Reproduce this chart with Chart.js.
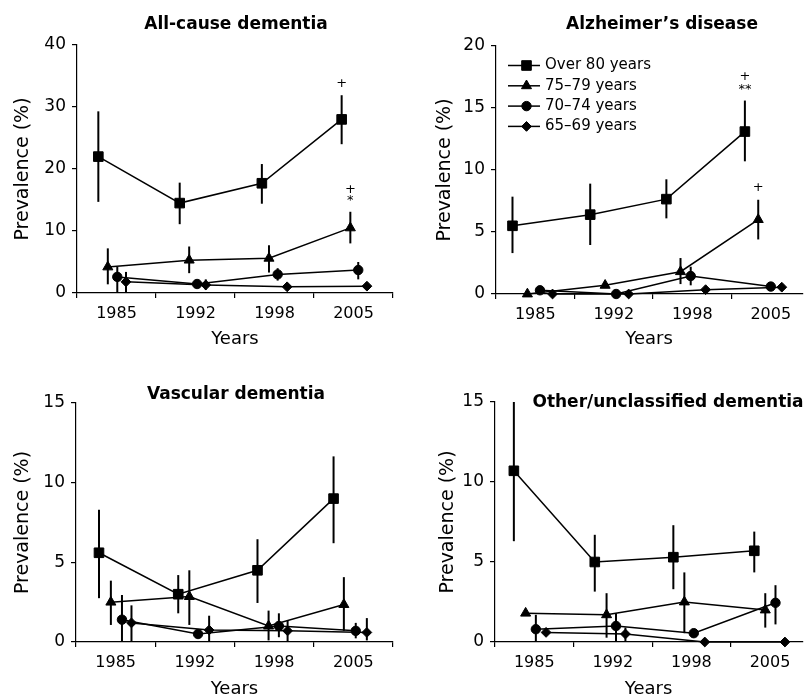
<!DOCTYPE html>
<html>
<head>
<meta charset="utf-8">
<script src="https://cdn.jsdelivr.net/npm/chart.js@4.4.1/dist/chart.umd.min.js"></script>
<style>
  html, body { margin: 0; padding: 0; background: #fff; overflow: hidden; }
  #wrap { position: relative; width: 810px; height: 696px; }
  .panel { position: absolute; }
</style>
</head>
<body>
<div id="wrap">
  <div class="panel" style="left:0;top:0;width:405px;height:350px"><canvas id="c1"></canvas></div>
  <div class="panel" style="left:405px;top:0;width:405px;height:350px"><canvas id="c2"></canvas></div>
  <div class="panel" style="left:0;top:350px;width:405px;height:350px"><canvas id="c3"></canvas></div>
  <div class="panel" style="left:405px;top:350px;width:405px;height:350px"><canvas id="c4"></canvas></div>
</div>
<script>
const years = ['1985', '1992', '1998', '2005'];
const ageGroups = ['Over 80 years', '75–79 years', '70–74 years', '65–69 years'];

// rows: Over 80, 75-79, 70-74, 65-69 ; x is position along the survey-year axis
const allCauseX = [[0.27, 1.30, 2.34, 3.35], [0.39, 1.42, 2.43, 3.46], [0.51, 1.52, 2.54, 3.56], [0.62, 1.63, 2.66, 3.67]];
const allCauseY = [[22, 14.5, 17.7, 28], [4.2, 5.3, 5.6, 10.5], [2.6, 1.45, 3.0, 3.7], [1.8, 1.3, 1.0, 1.1]];
const allCauseLo = [[14.7, 11.1, 14.4, 24], [1.4, 3.2, 3.3, 8.0], [0, 0.9, 2.0, 2.2], [0, 0.5, 0.7, 0.6]];
const allCauseHi = [[29.3, 17.8, 20.8, 31.9], [7.2, 7.5, 7.7, 13.1], [4.2, 2.1, 4.0, 5.0], [3.4, 2.2, 1.3, 1.6]];
const allCauseMarks = [[0, 3, '+', 33.7], [1, 3, '+', 16.6], [1, 3, '*', 14.9]];

const alzX = [[0.21, 1.20, 2.17, 3.17], [0.40, 1.39, 2.35, 3.34], [0.56, 1.53, 2.48, 3.50], [0.72, 1.69, 2.67, 3.64]];
const alzY = [[5.5, 6.4, 7.65, 13.1], [0, 0.7, 1.8, 6.0], [0.3, 0, 1.45, 0.6], [0, 0, 0.35, 0.55]];
const alzLo = [[3.3, 3.95, 6.1, 10.7], [0, 0.7, 0.8, 4.4], [0.3, 0, 0.7, 0.3], [0, 0, 0.35, 0.4]];
const alzHi = [[7.85, 8.9, 9.25, 15.6], [0, 0.7, 2.9, 7.6], [0.3, 0, 2.2, 0.9], [0, 0, 0.35, 0.8]];
const alzMarks = [[0, 3, '+', 17.5], [0, 3, '**', 16.5], [1, 3, '+', 8.6]];

const vascX = [[0.29, 1.29, 2.29, 3.25], [0.44, 1.43, 2.43, 3.38], [0.58, 1.54, 2.56, 3.53], [0.70, 1.68, 2.67, 3.67]];
const vascY = [[5.6, 3.0, 4.5, 9.0], [2.5, 2.85, 1.0, 2.35], [1.4, 0.5, 1.0, 0.7], [1.2, 0.75, 0.7, 0.6]];
const vascLo = [[2.75, 1.8, 2.45, 6.2], [1.07, 1.07, 0.1, 0.7], [0, 0.3, 0.3, 0.23], [0, 0, 0, 0.1]];
const vascHi = [[8.3, 4.2, 6.45, 11.65], [3.85, 4.5, 1.97, 4.07], [2.95, 0.8, 1.8, 1.2], [2.3, 1.65, 1.35, 1.5]];

const otherX = [[0.24, 1.27, 2.27, 3.30], [0.39, 1.42, 2.41, 3.44], [0.52, 1.54, 2.53, 3.57], [0.65, 1.66, 2.67, 3.69]];
const otherY = [[10.7, 5.0, 5.3, 5.7], [1.8, 1.7, 2.5, 2.0], [0.8, 1.0, 0.55, 2.45], [0.6, 0.5, 0, 0]];
const otherLo = [[6.3, 3.15, 3.3, 4.35], [1.8, 0.27, 0.55, 0.9], [0, 0, 0.55, 1.1], [0.6, 0, 0, 0]];
const otherHi = [[15, 6.7, 7.3, 6.9], [1.8, 3.05, 4.35, 3.05], [1.7, 1.8, 0.55, 3.55], [0.6, 0.9, 0, 0]];

const pointStyles = ['rect', 'triangle', 'circle', 'rectRot'];
const pointSizes = [6.8, 5.8, 4.7, 4.9];
const FONT = 'DejaVu Sans';

Chart.defaults.font.family = FONT;
Chart.defaults.color = '#000';

const panels = [
  { id: 'c1', title: 'All-cause dementia', titleAt: [236, 25], x: allCauseX, y: allCauseY, lo: allCauseLo, hi: allCauseHi, marks: allCauseMarks,
    yMax: 40, yStep: 10, xMax: 4, pad: { left: 0, top: 45, right: 12, bottom: 0 }, yWidth: 77, xHeight: 57, yTitlePad: 12 },
  { id: 'c2', title: 'Alzheimer\u2019s disease', titleAt: [257, 25], x: alzX, y: alzY, lo: alzLo, hi: alzHi, marks: alzMarks, legend: true,
    yMax: 20, yStep: 5, xMax: 3.9, pad: { left: 0, top: 46, right: 0, bottom: 0 }, yWidth: 91, xHeight: 56, yTitlePad: 29 },
  { id: 'c3', title: 'Vascular dementia', titleAt: [236, 45], x: vascX, y: vascY, lo: vascLo, hi: vascHi, marks: [],
    yMax: 15, yStep: 5, xMax: 4, pad: { left: 0, top: 53, right: 12, bottom: 0 }, yWidth: 76, xHeight: 58, yTitlePad: 12 },
  { id: 'c4', title: 'Other/unclassified dementia', titleAt: [263, 53], x: otherX, y: otherY, lo: otherLo, hi: otherHi, marks: [],
    yMax: 15, yStep: 5, xMax: 3.91, pad: { left: 0, top: 52, right: 0, bottom: 0 }, yWidth: 90, xHeight: 58, yTitlePad: 32 }
];

function panelPlugin(p) {
  return {
    id: 'panelExtras',
    beforeDatasetsDraw(chart) {
      const { ctx, scales: { x, y } } = chart;
      ctx.save();
      ctx.strokeStyle = '#000';
      ctx.lineWidth = 2;
      p.lo.forEach((row, s) => row.forEach((lo, i) => {
        const hi = p.hi[s][i];
        if (hi - lo < 0.01) return;
        const px = x.getPixelForValue(p.x[s][i]);
        ctx.beginPath();
        ctx.moveTo(px, y.getPixelForValue(lo));
        ctx.lineTo(px, y.getPixelForValue(hi));
        ctx.stroke();
      }));
      ctx.restore();
    },
    afterDraw(chart) {
      const { ctx, chartArea, scales: { x, y } } = chart;
      ctx.save();
      ctx.fillStyle = '#000';
      ctx.textAlign = 'center';
      ctx.textBaseline = 'middle';
      ctx.font = 'bold 17px ' + FONT;
      ctx.fillText(p.title, p.titleAt[0], p.titleAt[1]);

      ctx.font = '13px ' + FONT;
      p.marks.forEach(([s, i, txt, v]) => {
        ctx.fillText(txt, x.getPixelForValue(p.x[s][i]), y.getPixelForValue(v));
      });

      if (p.legend) {
        ctx.font = '15px ' + FONT;
        ctx.textAlign = 'left';
        ctx.strokeStyle = '#000';
        ageGroups.forEach((name, s) => {
          const cy = chartArea.top + 19.5 + s * 20.3;
          ctx.lineWidth = 1.5;
          ctx.beginPath();
          ctx.moveTo(chartArea.left + 12, cy);
          ctx.lineTo(chartArea.left + 44, cy);
          ctx.stroke();
          ctx.lineWidth = 1;
          Chart.helpers.drawPoint(ctx, { pointStyle: pointStyles[s], radius: pointSizes[s], borderWidth: 1, rotation: 0 }, chartArea.left + 30.5, cy);
          ctx.fillText(name, chartArea.left + 49, cy);
        });
      }
      ctx.restore();
    }
  };
}

panels.forEach(p => {
  const datasets = ageGroups.map((name, s) => ({
    label: name,
    data: p.y[s].map((v, i) => ({ x: p.x[s][i], y: v })),
    borderColor: '#000',
    backgroundColor: '#000',
    borderWidth: 1.5,
    pointStyle: pointStyles[s],
    pointRadius: pointSizes[s],
    pointBorderWidth: 1,
    pointBackgroundColor: '#000',
    pointBorderColor: '#000',
    tension: 0,
    fill: false,
    clip: false
  }));

  new Chart(document.getElementById(p.id), {
    type: 'line',
    data: { datasets },
    options: {
      responsive: true,
      maintainAspectRatio: false,
      animation: false,
      layout: { padding: p.pad },
      plugins: { legend: { display: false }, tooltip: { enabled: false } },
      scales: {
        x: {
          type: 'linear',
          min: 0,
          max: p.xMax,
          afterBuildTicks(scale) {
            const t = [];
            for (let v = 0; v <= p.xMax + 1e-9; v += 0.5) t.push({ value: v });
            scale.ticks = t;
          },
          afterFit(scale) { scale.height = p.xHeight; },
          ticks: {
            autoSkip: false,
            maxRotation: 0,
            minRotation: 0,
            padding: 6,
            font: { size: 16 },
            callback: v => Number.isInteger(v) ? '' : years[Math.floor(v)]
          },
          grid: {
            drawOnChartArea: false,
            drawTicks: true,
            tickLength: 5,
            lineWidth: 1.2,
            color: c => (c.tick && Number.isInteger(c.tick.value)) ? '#000' : 'rgba(0,0,0,0)'
          },
          border: { display: true, color: '#000', width: 1.2 },
          title: { display: true, text: 'Years', font: { size: 18 }, padding: { top: 0, bottom: 0 } }
        },
        y: {
          min: 0,
          max: p.yMax,
          afterFit(scale) { scale.width = p.yWidth; },
          ticks: { stepSize: p.yStep, padding: 6, font: { size: 17 } },
          grid: { drawOnChartArea: false, drawTicks: true, tickLength: 5, lineWidth: 1.2, color: '#000' },
          border: { display: true, color: '#000', width: 1.2 },
          title: { display: true, text: 'Prevalence (%)', font: { size: 19 }, padding: { top: p.yTitlePad, bottom: 0 } }
        }
      }
    },
    plugins: [panelPlugin(p)]
  });
});
</script>
</body>
</html>
